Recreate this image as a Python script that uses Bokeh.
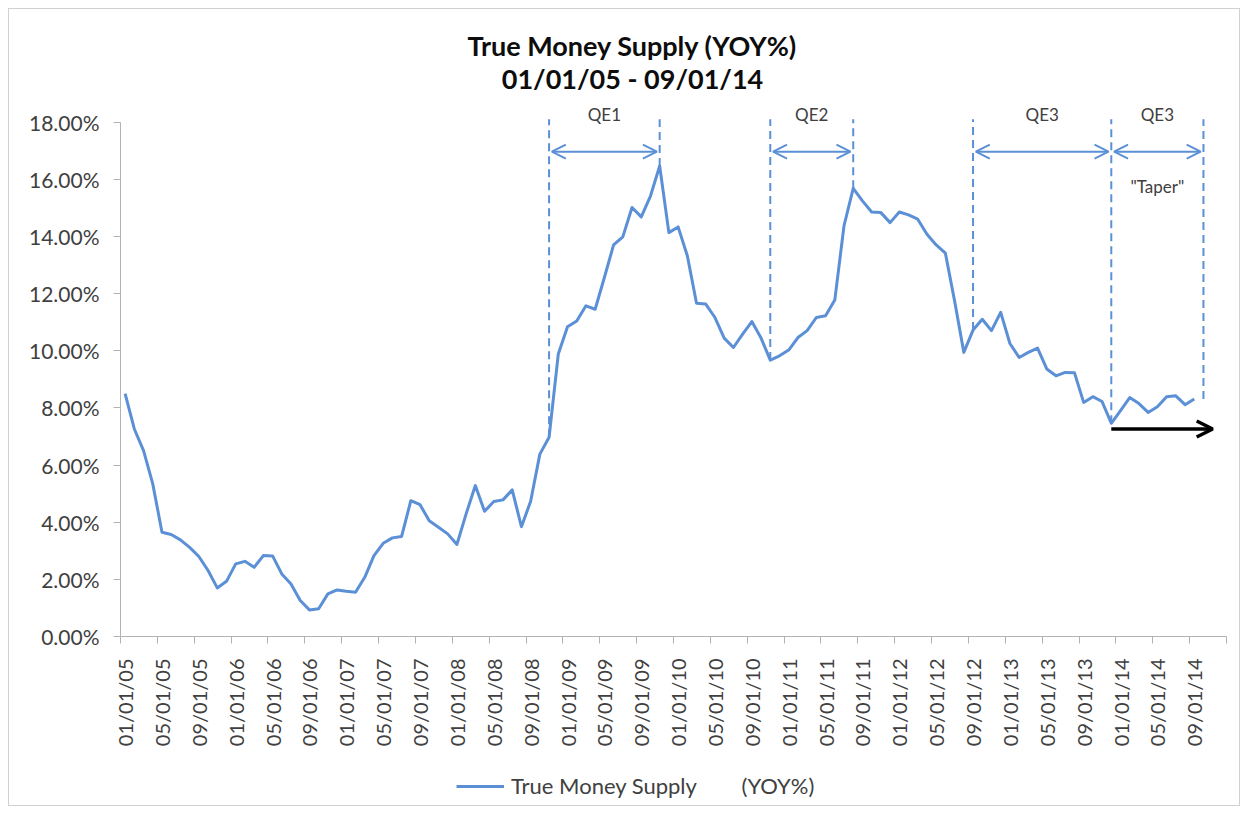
import math
from bokeh.plotting import figure
from bokeh.layouts import column
from bokeh.models import (FixedTicker, PrintfTickFormatter, Range1d, Arrow, OpenHead,
                          Label, Legend, LegendItem, ColumnDataSource)
from bokeh.embed import file_html
from bokeh.resources import INLINE

# ---------------- data ----------------
# monthly categories 01/01/05 ... 12/01/14 (axis has 120 slots, data through 09/01/14)
months = [f"{m:02d}/01/{y:02d}" for y in range(5, 15) for m in range(1, 13)]

tick_labels = ["01/01/05", "05/01/05", "09/01/05", "01/01/06", "05/01/06", "09/01/06",
               "01/01/07", "05/01/07", "09/01/07", "01/01/08", "05/01/08", "09/01/08",
               "01/01/09", "05/01/09", "09/01/09", "01/01/10", "05/01/10", "09/01/10",
               "01/01/11", "05/01/11", "09/01/11", "01/01/12", "05/01/12", "09/01/12",
               "01/01/13", "05/01/13", "09/01/13", "01/01/14", "05/01/14", "09/01/14"]

yoy = [8.50, 7.26, 6.50, 5.34, 3.65, 3.57, 3.38, 3.12, 2.80, 2.31, 1.70, 1.93,
       2.54, 2.63, 2.42, 2.83, 2.82, 2.19, 1.84, 1.26, 0.93, 0.97, 1.49, 1.63,
       1.58, 1.55, 2.07, 2.83, 3.26, 3.45, 3.50, 4.75, 4.61, 4.05, 3.82, 3.59,
       3.22, 4.29, 5.28, 4.38, 4.72, 4.78, 5.13, 3.84, 4.73, 6.38, 6.97, 9.88,
       10.84, 11.04, 11.57, 11.45, 12.56, 13.70, 13.98, 15.01, 14.68, 15.41, 16.46, 14.13,
       14.33, 13.32, 11.66, 11.63, 11.16, 10.44, 10.11, 10.58, 11.02, 10.44, 9.67, 9.82,
       10.02, 10.46, 10.70, 11.16, 11.22, 11.77, 14.37, 15.68, 15.24, 14.85, 14.83, 14.48,
       14.85, 14.75, 14.60, 14.07, 13.70, 13.41, 11.74, 9.94, 10.72, 11.10, 10.70, 11.34,
       10.25, 9.76, 9.94, 10.09, 9.36, 9.12, 9.24, 9.23, 8.19, 8.39, 8.22, 7.46,
       7.90, 8.36, 8.15, 7.84, 8.04, 8.39, 8.42, 8.11, 8.31]

y_ticks = [0, 2, 4, 6, 8, 10, 12, 14, 16, 18]

# programme periods: (label, start month, end month)
qe_periods = [("QE1", "11/01/08", "11/01/09"),
              ("QE2", "11/01/10", "08/01/11"),
              ("QE3", "09/01/12", "12/01/13"),
              ("QE3", "12/01/13", "10/01/14")]
taper_label = '"Taper"'
title_lines = ["True Money Supply (YOY%)", "01/01/05 - 09/01/14"]
legend_label = "True Money Supply" + "\u00a0" * 8 + "(YOY%)"

# ---------------- style ----------------
FONT = "Lato"
BLUE = "#5B8FD6"
TXT = "#404040"
AXIS = "#b3b3b3"

W = 1230
H_MAIN, H_LEG = 747, 49
BORDER_B = 120
Y_TOP = 21.936         # frame extends above 18% to hold title and period labels

x_idx = list(range(len(yoy)))
src = ColumnDataSource(dict(x=x_idx, y=yoy, m=months[:len(yoy)]))

p = figure(width=W, height=H_MAIN, output_backend="svg", toolbar_location=None,
           x_range=Range1d(-0.5, len(months) - 0.5), y_range=Range1d(0, Y_TOP),
           min_border_left=111, min_border_right=13, min_border_top=0,
           min_border_bottom=BORDER_B)
p.outline_line_color = None
p.xgrid.visible = False
p.ygrid.visible = False
p.background_fill_color = "white"
p.border_fill_color = "white"

line_style = dict(line_color=BLUE, line_width=3, line_join="round")
line = p.line("x", "y", source=src, **line_style)

# y axis (line limited to 0-18 %)
p.yaxis.bounds = (0, 18)
p.yaxis.ticker = FixedTicker(ticks=y_ticks)
p.yaxis.formatter = PrintfTickFormatter(format="%.2f%%")
p.yaxis.major_label_text_font = FONT
p.yaxis.major_label_text_font_size = "21px"
p.yaxis.major_label_text_color = TXT
p.yaxis.axis_line_color = AXIS
p.yaxis.major_tick_line_color = AXIS
p.yaxis.major_tick_out = 7
p.yaxis.major_tick_in = 0
p.yaxis.minor_tick_line_color = None
p.yaxis.major_label_standoff = 14

# x axis: labels every 4 months, tick marks on category boundaries
lab_pos = [months.index(t) for t in tick_labels]
p.xaxis.ticker = FixedTicker(ticks=lab_pos,
                             minor_ticks=[i - 0.5 for i in range(0, len(months) + 1, 4)])
p.xaxis.major_label_overrides = {i: months[i] for i in lab_pos}
p.xaxis.major_label_orientation = math.pi / 2
p.xaxis.major_label_text_font = FONT
p.xaxis.major_label_text_font_size = "20px"
p.xaxis.major_label_text_color = TXT
p.xaxis.axis_line_color = AXIS
p.xaxis.major_tick_line_color = None
p.xaxis.major_tick_out = 0
p.xaxis.major_tick_in = 0
p.xaxis.minor_tick_line_color = AXIS
p.xaxis.minor_tick_out = 7
p.xaxis.minor_tick_in = 0
p.xaxis.major_label_standoff = 15

# title (two lines, centred on the whole chart)
title_x = 55.05
for txt, ty in zip(title_lines, (20.68, 19.52)):
    p.add_layout(Label(x=title_x, y=ty, text=txt, text_align="center",
                       text_baseline="middle", text_font=FONT, text_font_style="bold",
                       text_font_size="27px", text_color="#0d0d0d"))

# QE annotations
TOP = 18.1
ARROW_Y = 16.96
drawn = set()
for name, s, e in qe_periods:
    i0, i1 = months.index(s), months.index(e)
    for i in (i0, i1):
        if i in drawn:
            continue
        drawn.add(i)
        bottom = yoy[i] if i < len(yoy) else yoy[-1]
        p.add_layout(Arrow(x_start=i, y_start=bottom, x_end=i, y_end=TOP, end=None,
                           line_color=BLUE, line_width=2, line_dash="8 5"))
    p.add_layout(Arrow(x_start=i0 + 0.3, y_start=ARROW_Y, x_end=i1 - 0.3, y_end=ARROW_Y,
                       start=OpenHead(size=14, line_color=BLUE, line_width=2),
                       end=OpenHead(size=14, line_color=BLUE, line_width=2),
                       line_color=BLUE, line_width=2))
    p.add_layout(Label(x=(i0 + i1) / 2, y=18.27, text=name, text_align="center",
                       text_baseline="middle", text_font=FONT, text_font_size="17px",
                       text_color=TXT))

t0, t1 = months.index(qe_periods[-1][1]), months.index(qe_periods[-1][2])
p.add_layout(Label(x=(t0 + t1) / 2, y=15.73, text=taper_label, text_align="center",
                   text_baseline="middle", text_font=FONT, text_font_size="17px",
                   text_color=TXT))

# black "taper" arrow
p.add_layout(Arrow(x_start=t0, y_start=yoy[t0] - 0.2, x_end=len(months) - 2,
                   y_end=yoy[t0] - 0.2,
                   end=OpenHead(size=16, line_color="black", line_width=3.5),
                   line_color="black", line_width=3.5))

# legend strip under the chart (same series, ranges keep it out of view)
pl = figure(width=W, height=H_LEG, output_backend="svg", toolbar_location=None,
            x_range=Range1d(-1000, -999), y_range=Range1d(-1000, -999),
            x_axis_location=None, y_axis_location=None,
            min_border_left=0, min_border_right=0, min_border_top=6, min_border_bottom=0)
pl.outline_line_color = None
pl.xgrid.visible = False
pl.ygrid.visible = False
pl.background_fill_color = "white"
pl.border_fill_color = "white"
leg_line = pl.line("x", "y", source=src, **line_style)
legend = Legend(items=[LegendItem(label=legend_label, renderers=[leg_line])],
                orientation="horizontal", location=(336, 6),
                label_text_font=FONT, label_text_font_size="22px", label_text_color=TXT,
                glyph_width=48, glyph_height=24, label_height=24, label_standoff=7,
                border_line_color=None, background_fill_alpha=0, margin=0, padding=4)
pl.add_layout(legend, "center")

layout = column(p, pl, spacing=0,
                styles={"margin": "8px 0 0 8px", "border": "1px solid #d0d0d0"})

open("out.html", "w").write(file_html(layout, INLINE))
